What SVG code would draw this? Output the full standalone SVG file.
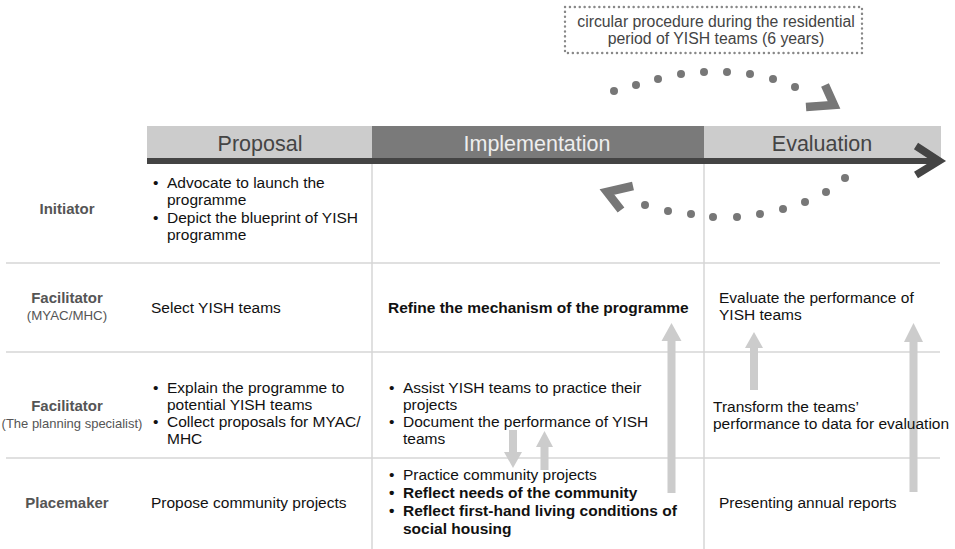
<svg xmlns="http://www.w3.org/2000/svg" width="955" height="549" viewBox="0 0 955 549">
<style>
.t{font-family:"Liberation Sans",Arial,sans-serif;font-size:15.5px;fill:#111}
.b{font-weight:bold}
.lab{font-family:"Liberation Sans",Arial,sans-serif;font-size:15px;font-weight:bold;fill:#555;text-anchor:middle}
.sub{font-family:"Liberation Sans",Arial,sans-serif;font-size:13.3px;fill:#555;text-anchor:middle}
.hd{font-family:"Liberation Sans",Arial,sans-serif;font-size:21.5px;text-anchor:middle}
.nt{font-family:"Liberation Sans",Arial,sans-serif;font-size:15.8px;fill:#444;text-anchor:middle}
.grid{stroke:#d6d6d6;stroke-width:1.5;fill:none}
.ga{fill:#cccccc}
.dot{fill:#777}
.chev{fill:none;stroke:#777;stroke-width:8.5;stroke-linecap:butt;stroke-linejoin:miter}
</style>
<rect width="955" height="549" fill="#fff"/>

<g id="grid">
<line class="grid" x1="372" y1="164" x2="372" y2="549"/>
<line class="grid" x1="704" y1="164" x2="704" y2="549"/>
<line class="grid" x1="6" y1="263" x2="940" y2="263"/>
<line class="grid" x1="6" y1="352" x2="940" y2="352"/>
<line class="grid" x1="6" y1="458" x2="940" y2="458"/>
</g>

<g id="header">
<rect x="147" y="126" width="225" height="32" fill="#cccccc"/>
<rect x="372" y="126" width="332" height="32" fill="#7a7a7a"/>
<rect x="704" y="126" width="237" height="32" fill="#cccccc"/>
<text class="hd" x="260" y="151" fill="#444">Proposal</text>
<text class="hd" x="537" y="151" fill="#eeeeee">Implementation</text>
<text class="hd" x="822" y="151" fill="#444">Evaluation</text>
<rect x="147" y="158" width="790" height="6" fill="#444"/>
<polyline points="916,146 939,161 916,175" fill="none" stroke="#444" stroke-width="7.5" stroke-linejoin="miter"/>
</g>

<g id="note">
<rect x="565" y="7" width="297" height="46" fill="none" stroke="#888" stroke-width="2.4" stroke-dasharray="0.1 4.8" stroke-linecap="round"/>
<text class="nt" x="716" y="27">circular procedure during the residential</text>
<text class="nt" x="716" y="44">period of YISH teams (6 years)</text>
</g>

<g id="cycle-top">
<circle class="dot" cx="614" cy="91" r="4"/>
<circle class="dot" cx="636" cy="85" r="4"/>
<circle class="dot" cx="658" cy="79" r="4"/>
<circle class="dot" cx="681" cy="74" r="4"/>
<circle class="dot" cx="704" cy="72" r="4"/>
<circle class="dot" cx="727" cy="72" r="4"/>
<circle class="dot" cx="750" cy="74" r="4"/>
<circle class="dot" cx="773" cy="79" r="4"/>
<circle class="dot" cx="795" cy="87" r="4"/>
<polyline class="chev" points="825,85 834,105 806,107"/>
</g>

<g id="cycle-bottom">
<circle class="dot" cx="845" cy="178" r="4"/>
<circle class="dot" cx="826" cy="192" r="4"/>
<circle class="dot" cx="805" cy="202" r="4"/>
<circle class="dot" cx="783" cy="209" r="4"/>
<circle class="dot" cx="760" cy="214" r="4"/>
<circle class="dot" cx="737" cy="217" r="4"/>
<circle class="dot" cx="713" cy="217" r="4"/>
<circle class="dot" cx="691" cy="214" r="4"/>
<circle class="dot" cx="668" cy="211" r="4"/>
<circle class="dot" cx="645" cy="205" r="4"/>
<polyline class="chev" points="633,186 607,192 621,210"/>
</g>

<g id="connectors">
<path class="ga" d="M667.5,493 V341 H661.5 L671.5,323 L681.5,341 H675.5 V493 Z"/>
<path class="ga" d="M750,390 V348 H745 L754,332 L763,348 H758 V390 Z"/>
<path class="ga" d="M909.5,492 V342 H904 L913.5,323 L923,342 H917.5 V492 Z"/>
<path class="ga" d="M509,430 V452 H504 L513,468 L522,452 H517 V430 Z"/>
<path class="ga" d="M540.5,470 V447 H536 L544.5,431 L553,447 H548.5 V470 Z"/>
</g>

<g id="initiator">
<text class="lab" x="67" y="214">Initiator</text>
<text class="t" x="153" y="188">•</text><text class="t" x="167" y="188">Advocate to launch the</text>
<text class="t" x="167" y="205">programme</text>
<text class="t" x="153" y="223">•</text><text class="t" x="167" y="223">Depict the blueprint of YISH</text>
<text class="t" x="167" y="240">programme</text>
</g>

<g id="facilitator-myac">
<text class="lab" x="67" y="303">Facilitator</text>
<text class="sub" x="67" y="320">(MYAC/MHC)</text>
<text class="t" x="151" y="313">Select YISH teams</text>
<text class="t b" x="388" y="313">Refine the mechanism of the programme</text>
<text class="t" x="719" y="303">Evaluate the performance of</text>
<text class="t" x="719" y="320">YISH teams</text>
</g>

<g id="facilitator-planning">
<text class="lab" x="67" y="411">Facilitator</text>
<text class="sub" x="72" y="428" style="font-size:13px">(The planning specialist)</text>
<text class="t" x="153" y="393">•</text><text class="t" x="167" y="393">Explain the programme to</text>
<text class="t" x="167" y="410">potential YISH teams</text>
<text class="t" x="153" y="427">•</text><text class="t" x="167" y="427">Collect proposals for MYAC/</text>
<text class="t" x="167" y="444">MHC</text>
<text class="t" x="389" y="393">•</text><text class="t" x="403" y="393">Assist YISH teams to practice their</text>
<text class="t" x="403" y="410">projects</text>
<text class="t" x="389" y="427">•</text><text class="t" x="403" y="427">Document the performance of YISH</text>
<text class="t" x="403" y="444">teams</text>
<text class="t" x="713" y="412">Transform the teams’</text>
<text class="t" x="713" y="429">performance to data for evaluation</text>
</g>

<g id="placemaker">
<text class="lab" x="67" y="508">Placemaker</text>
<text class="t" x="151" y="508">Propose community projects</text>
<text class="t" x="389" y="480">•</text><text class="t" x="403" y="480">Practice community projects</text>
<text class="t b" x="389" y="498">•</text><text class="t b" x="403" y="498">Reflect needs of the community</text>
<text class="t b" x="389" y="516">•</text><text class="t b" x="403" y="516">Reflect first-hand living conditions of</text>
<text class="t b" x="403" y="534">social housing</text>
<text class="t" x="719" y="508">Presenting annual reports</text>
</g>
</svg>
